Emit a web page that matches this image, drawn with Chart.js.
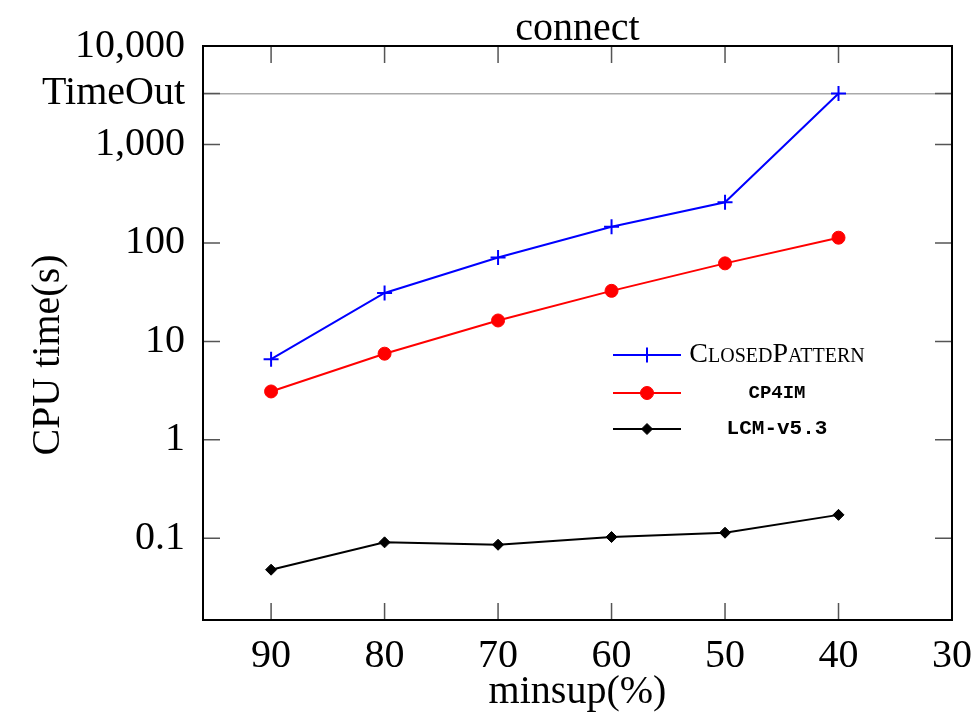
<!DOCTYPE html>
<html>
<head>
<meta charset="utf-8">
<title>connect</title>
<script src="https://cdn.jsdelivr.net/npm/chart.js"></script>
<style>
  body { margin: 0; background: #fff; }
  #wrap { width: 979px; height: 720px; }
</style>
</head>
<body>
<div id="wrap"><canvas id="chart" width="979" height="720"></canvas></div>
<script>
// values
const TIMEOUT = 3300;
const minsup = [90, 80, 70, 60, 50, 40];
const closedPattern = [6.6, 31, 71, 146, 259, TIMEOUT];
const cp4im = [3.1, 7.5, 16.3, 32.6, 62, 113];
const lcm = [0.048, 0.091, 0.086, 0.103, 0.114, 0.173];

const xTicks = [90, 80, 70, 60, 50, 40, 30];
const yTicks = [0.1, 1, 10, 100, 1000, TIMEOUT, 10000];
const yTickLabels = ['0.1', '1', '10', '100', '1,000', 'TimeOut', '10,000'];

const seriesNames = ['ClosedPattern', 'CP4IM', 'LCM-v5.3'];

const serif = '"Liberation Serif", "Times New Roman", serif';
const mono = '"Liberation Mono", "DejaVu Sans Mono", monospace';

function toPoints(values) {
  return minsup.map((x, i) => ({ x: x, y: values[i] }));
}

// box around the plot, inner ticks on all 4 sides, y title and legend
const framePlugin = {
  id: 'frame',
  afterDraw(chart) {
    const ctx = chart.ctx;
    const a = chart.chartArea;
    const xs = chart.scales.x;
    const ys = chart.scales.y;
    const tl = 17;

    ctx.save();
    ctx.strokeStyle = '#555';
    ctx.lineWidth = 1.5;
    ctx.beginPath();
    xTicks.forEach(v => {
      const px = xs.getPixelForValue(v);
      ctx.moveTo(px, a.bottom); ctx.lineTo(px, a.bottom - tl);
      ctx.moveTo(px, a.top); ctx.lineTo(px, a.top + tl);
    });
    yTicks.forEach(v => {
      const py = ys.getPixelForValue(v);
      ctx.moveTo(a.left, py); ctx.lineTo(a.left + tl, py);
      ctx.moveTo(a.right, py); ctx.lineTo(a.right - tl, py);
    });
    ctx.stroke();

    ctx.strokeStyle = '#000';
    ctx.lineWidth = 2;
    ctx.strokeRect(a.left, a.top, a.right - a.left, a.bottom - a.top);

    // y axis title
    ctx.fillStyle = '#000';
    ctx.font = '40px ' + serif;
    ctx.textAlign = 'center';
    ctx.textBaseline = 'middle';
    ctx.translate(48, 355);
    ctx.rotate(-Math.PI / 2);
    ctx.fillText('CPU time(s)', 0, 0);
    ctx.restore();

    // legend
    const legendY = [355, 393, 429];
    chart.data.datasets.forEach((ds, i) => {
      const y = legendY[i];
      ctx.save();
      ctx.strokeStyle = ds.borderColor;
      ctx.fillStyle = ds.pointBackgroundColor;
      ctx.lineWidth = ds.borderWidth;
      ctx.beginPath();
      ctx.moveTo(613, y);
      ctx.lineTo(681, y);
      ctx.stroke();
      ctx.lineWidth = ds.pointBorderWidth;
      Chart.helpers.drawPoint(ctx, {
        pointStyle: ds.pointStyle,
        radius: ds.pointRadius,
        rotation: 0,
        borderWidth: ds.pointBorderWidth
      }, 647, y);

      ctx.fillStyle = '#000';
      ctx.textAlign = 'center';
      ctx.textBaseline = 'middle';
      if (i === 0) {
        ctx.font = 'small-caps 28px ' + serif;
        ctx.fontVariantCaps = 'small-caps';
      } else {
        ctx.font = 'bold ' + (i === 1 ? 19 : 21) + 'px ' + mono;
      }
      ctx.fillText(seriesNames[i], 777, y);
      ctx.restore();
    });
  }
};

const ctx = document.getElementById('chart').getContext('2d');
const chart = new Chart(ctx, {
  type: 'line',
  data: {
    datasets: [
      {
        label: seriesNames[0],
        data: toPoints(closedPattern),
        borderColor: '#0000ff',
        pointBackgroundColor: '#0000ff',
        pointBorderColor: '#0000ff',
        pointStyle: 'cross',
        pointRadius: 7.5,
        pointBorderWidth: 2,
        borderWidth: 2
      },
      {
        label: seriesNames[1],
        data: toPoints(cp4im),
        borderColor: '#ff0000',
        pointBackgroundColor: '#ff0000',
        pointBorderColor: '#ff0000',
        pointStyle: 'circle',
        pointRadius: 6.5,
        pointBorderWidth: 1,
        borderWidth: 2
      },
      {
        label: seriesNames[2],
        data: toPoints(lcm),
        borderColor: '#000000',
        pointBackgroundColor: '#000000',
        pointBorderColor: '#000000',
        pointStyle: 'rectRot',
        pointRadius: 5.5,
        pointBorderWidth: 1,
        borderWidth: 2
      }
    ]
  },
  options: {
    responsive: false,
    animation: false,
    layout: { padding: { right: 27, top: 0, bottom: 0, left: 0 } },
    plugins: {
      legend: { display: false },
      tooltip: { enabled: false },
      title: {
        display: true,
        text: 'connect',
        fullSize: false,
        color: '#000',
        font: { family: serif, size: 40, weight: 'normal', lineHeight: 1 },
        padding: { top: 9, bottom: -3 }
      }
    },
    scales: {
      x: {
        type: 'linear',
        reverse: true,
        min: 30,
        max: 96,
        afterBuildTicks: scale => { scale.ticks = xTicks.map(v => ({ value: v })); },
        afterFit: scale => {
          scale.height = 100;
          scale.paddingLeft = 0;
          scale.paddingRight = 0;
        },
        grid: { display: false, drawTicks: false },
        border: { display: false },
        ticks: {
          color: '#000',
          padding: 12,
          maxRotation: 0,
          font: { family: serif, size: 40 }
        },
        title: {
          display: true,
          text: 'minsup(%)',
          color: '#000',
          font: { family: serif, size: 40 },
          padding: { top: 0, bottom: 4 }
        }
      },
      y: {
        type: 'logarithmic',
        min: 0.0148,
        max: 10000,
        afterBuildTicks: scale => { scale.ticks = yTicks.map(v => ({ value: v })); },
        afterFit: scale => { scale.width = 203; },
        grid: {
          drawTicks: false,
          lineWidth: 1.5,
          color: c => (c.tick && c.tick.value === TIMEOUT) ? '#aaaaaa' : 'rgba(0,0,0,0)'
        },
        border: { display: false },
        ticks: {
          color: '#000',
          padding: 18,
          font: { family: serif, size: 40 },
          callback: value => {
            const i = yTicks.indexOf(value);
            return i >= 0 ? yTickLabels[i] : '';
          }
        }
      }
    }
  },
  plugins: [framePlugin]
});
</script>
</body>
</html>
